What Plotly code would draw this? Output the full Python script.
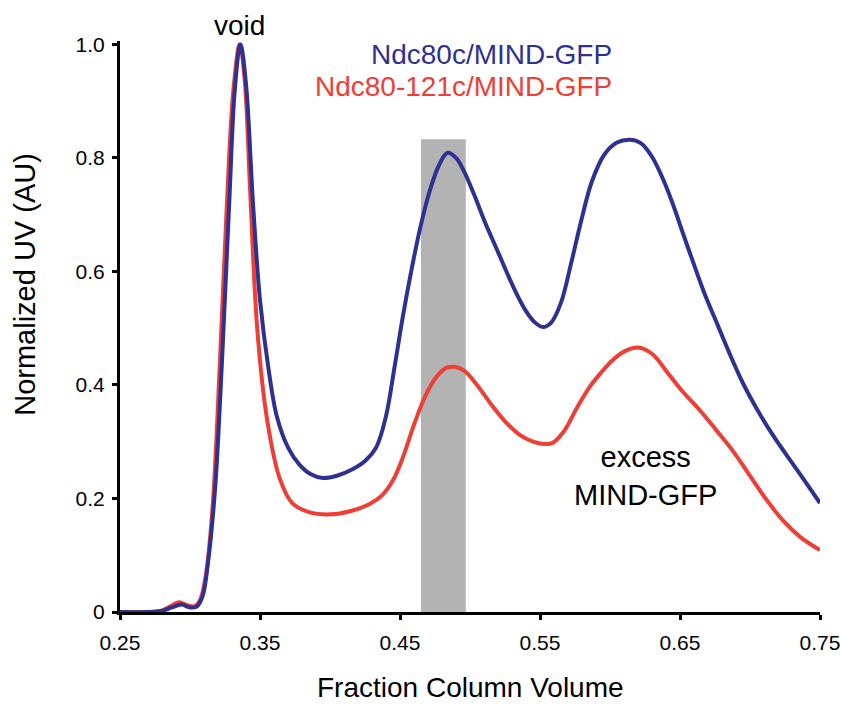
import plotly.graph_objects as go

# Ndc80c/MIND-GFP (blue)
blue_x = [0.25, 0.27, 0.28, 0.287, 0.294, 0.300, 0.305, 0.309, 0.313, 0.318, 0.323, 0.328, 0.332, 0.336,
          0.340, 0.345, 0.350, 0.356, 0.362, 0.370, 0.378, 0.386, 0.395, 0.405, 0.415, 0.425, 0.433,
          0.440, 0.446, 0.452, 0.458, 0.464, 0.471, 0.478, 0.484, 0.490, 0.496, 0.503, 0.511, 0.519,
          0.526, 0.533, 0.540, 0.546, 0.552, 0.558, 0.565, 0.572, 0.579, 0.587, 0.596, 0.605, 0.614,
          0.622, 0.630, 0.638, 0.645, 0.652, 0.660, 0.668, 0.677, 0.686, 0.695, 0.705, 0.716, 0.726,
          0.736, 0.750]
blue_y = [0.0, 0.0, 0.002, 0.008, 0.013, 0.008, 0.010, 0.028, 0.09, 0.22, 0.45, 0.72, 0.92, 1.0,
          0.93, 0.72, 0.55, 0.43, 0.345, 0.29, 0.26, 0.243, 0.236, 0.240, 0.250, 0.266, 0.290,
          0.345, 0.430, 0.520, 0.600, 0.672, 0.740, 0.788, 0.809, 0.800, 0.775, 0.735, 0.685, 0.640,
          0.600, 0.562, 0.530, 0.511, 0.502, 0.510, 0.545, 0.612, 0.685, 0.758, 0.806, 0.827, 0.832,
          0.826, 0.802, 0.762, 0.718, 0.668, 0.612, 0.558, 0.505, 0.452, 0.403, 0.357, 0.313, 0.277,
          0.242, 0.192]

# Ndc80-121c/MIND-GFP (red)
red_x = [0.25, 0.27, 0.28, 0.286, 0.292, 0.298, 0.303, 0.307, 0.311, 0.316, 0.321, 0.326, 0.331, 0.3355,
         0.339, 0.343, 0.348, 0.355, 0.364, 0.373, 0.385, 0.400, 0.415, 0.428, 0.437, 0.445, 0.452,
         0.460, 0.468, 0.476, 0.483, 0.489, 0.496, 0.505, 0.515, 0.525, 0.535, 0.545, 0.553, 0.559,
         0.567, 0.576, 0.585, 0.593, 0.602, 0.611, 0.620, 0.630, 0.641, 0.652, 0.664, 0.676, 0.688,
         0.700, 0.712, 0.724, 0.736, 0.750]
red_y = [0.0, 0.0, 0.003, 0.010, 0.017, 0.012, 0.010, 0.020, 0.060, 0.18, 0.42, 0.70, 0.92, 1.0,
         0.94, 0.74, 0.50, 0.34, 0.236, 0.192, 0.176, 0.172, 0.178, 0.190, 0.205, 0.232, 0.272,
         0.330, 0.380, 0.414, 0.430, 0.432, 0.425, 0.400, 0.366, 0.336, 0.313, 0.300, 0.296, 0.298,
         0.318, 0.358, 0.395, 0.420, 0.444, 0.460, 0.466, 0.455, 0.422, 0.388, 0.356, 0.320, 0.283,
         0.240, 0.197, 0.160, 0.132, 0.109]

x_tickvals = [0.25, 0.35, 0.45, 0.55, 0.65, 0.75]
x_ticktext = ["0.25", "0.35", "0.45", "0.55", "0.65", "0.75"]
y_tickvals = [0, 0.2, 0.4, 0.6, 0.8, 1.0]
y_ticktext = ["0", "0.2", "0.4", "0.6", "0.8", "1.0"]

band_x = [0.465, 0.497]
band_top = 0.833

BLUE = "#2e3192"
RED = "#ef3e36"

fig = go.Figure()
fig.add_shape(type="rect", xref="x", yref="y", x0=band_x[0], x1=band_x[1], y0=0, y1=band_top,
              fillcolor="#b3b3b3", line=dict(width=0), layer="below")
fig.add_trace(go.Scatter(x=red_x, y=red_y, mode="lines", line=dict(color=RED, width=4, shape="spline", smoothing=1.0),
                         name="Ndc80-121c/MIND-GFP", hoverinfo="skip"))
fig.add_trace(go.Scatter(x=blue_x, y=blue_y, mode="lines", line=dict(color=BLUE, width=4, shape="spline", smoothing=1.0),
                         name="Ndc80c/MIND-GFP", hoverinfo="skip"))

font_family = "Liberation Sans, Arial, sans-serif"

# plot area: 700 x 571 px
fig.add_annotation(x=0.3355, y=1.0, xref="x", yref="paper", yanchor="middle", yshift=16,
                   text="void", showarrow=False,
                   font=dict(size=28, color="black", family=font_family))
fig.add_annotation(x=0.603, y=0.9755, xref="x", yref="paper", text="Ndc80c/MIND-GFP", showarrow=False,
                   xanchor="right", yanchor="middle",
                   font=dict(size=28, color=BLUE, family=font_family))
fig.add_annotation(x=0.603, y=0.921, xref="x", yref="paper", text="Ndc80-121c/MIND-GFP", showarrow=False,
                   xanchor="right", yanchor="middle",
                   font=dict(size=28, color=RED, family=font_family))
fig.add_annotation(x=0.625, y=0.240, xref="x", yref="y", text="excess<br>MIND-GFP", showarrow=False,
                   align="center", font=dict(size=29, color="black", family=font_family))
fig.add_annotation(x=0, y=0.573, xref="paper", yref="paper", xanchor="center", xshift=-95,
                   text="Normalized UV (AU)", showarrow=False,
                   textangle=-90, font=dict(size=29, color="black", family=font_family))
fig.add_annotation(x=0.5, y=0, xref="paper", yref="paper", yanchor="bottom", yshift=-92,
                   text="Fraction Column Volume", showarrow=False, borderpad=0,
                   font=dict(size=28, color="black", family=font_family))

fig.update_layout(
    width=843, height=704,
    margin=dict(l=120, r=23, t=41, b=92),
    paper_bgcolor="white", plot_bgcolor="white",
    showlegend=False,
    font=dict(family=font_family, color="black"),
)
fig.update_xaxes(range=[0.25, 0.75], tickvals=x_tickvals, ticktext=x_ticktext, automargin=False,
                 showgrid=False, zeroline=False, showline=True, linecolor="black", linewidth=3,
                 ticks="outside", ticklen=5, tickwidth=3, tickcolor="black",
                 tickfont=dict(size=21, family=font_family), ticklabelstandoff=5)
fig.update_yaxes(range=[0, 1.006], tickvals=y_tickvals, ticktext=y_ticktext, automargin=False,
                 showgrid=False, zeroline=False, showline=True, linecolor="black", linewidth=3,
                 ticks="outside", ticklen=5, tickwidth=3, tickcolor="black",
                 tickfont=dict(size=21, family=font_family), ticklabelstandoff=3)

# remove the default 8px page margin so the figure fills the window exactly
fig.write_html("out.html", config={"displayModeBar": False},
               post_script="document.body.style.margin='0';document.body.style.overflow='hidden';")
